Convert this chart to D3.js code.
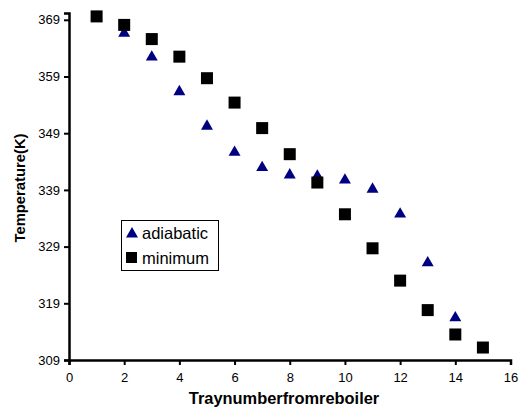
<!DOCTYPE html>
<html><head><meta charset="utf-8">
<script src="https://cdn.jsdelivr.net/npm/d3@7"></script>
<style>body{margin:0;background:#fff}text{font-family:"Liberation Sans",Arial,sans-serif}</style>
</head><body><svg id="c" width="521" height="411"></svg>
<script>
const adiabaticX = [1,2,3,4,5,6,7,8,9,10,11,12,13,14];
const adiabaticY = [369.6,366.8,362.6,356.5,350.4,345.8,343.1,341.8,341.6,340.9,339.3,334.9,326.3,316.6];
const minimumX = [1,2,3,4,5,6,7,8,9,10,11,12,13,14,15];
const minimumY = [369.6,368.1,365.6,362.5,358.7,354.4,349.9,345.3,340.3,334.7,328.7,323.0,317.8,313.5,311.2];
const xTicks = [0,2,4,6,8,10,12,14,16];
const yTicks = [309,319,329,339,349,359,369];
const legendLabels = ["adiabatic","minimum"];

const svg = d3.select("#c");
const x = d3.scaleLinear().domain([0,16]).range([69,510.5]);
const y = d3.scaleLinear().domain([309,370.2]).range([360,13]);

const xa = svg.append("g").attr("transform","translate(0,360)")
  .call(d3.axisBottom(x).tickValues(xTicks).tickSize(5).tickPadding(8));
const ya = svg.append("g").attr("transform","translate(69,0)")
  .call(d3.axisLeft(y).tickValues(yTicks).tickSize(5).tickPadding(4));
[xa,ya].forEach(a=>{
  a.select(".domain").attr("stroke","#000").attr("stroke-width",2.5);
  a.selectAll(".tick line").attr("stroke","#000").attr("stroke-width",2);
  a.selectAll(".tick text").attr("font-size",13).attr("fill","#000");
});

const tri = d3.symbol().type(d3.symbolTriangle).size(62);
svg.append("g").selectAll("path").data(adiabaticX).join("path")
  .attr("d",tri)
  .attr("transform",(d,i)=>`translate(${x(d)},${y(adiabaticY[i])+1})`)
  .attr("fill","#000080");
svg.append("g").selectAll("rect").data(minimumX).join("rect")
  .attr("x",d=>x(d)-6).attr("y",(d,i)=>y(minimumY[i])-6)
  .attr("width",12).attr("height",12).attr("fill","#000");

svg.append("text").attr("x",284).attr("y",404).attr("text-anchor","middle")
  .attr("font-size",16.4).attr("font-weight","bold").text("Traynumberfromreboiler");
svg.append("text").attr("transform","translate(25,188) rotate(-90)").attr("text-anchor","middle")
  .attr("font-size",14.8).attr("font-weight","bold").text("Temperature(K)");

const lg = svg.append("g");
lg.append("rect").attr("x",121.5).attr("y",220.5).attr("width",97).attr("height",50)
  .attr("fill","#fff").attr("stroke","#000").attr("stroke-width",1);
lg.append("path").attr("d",tri).attr("transform","translate(132,234)").attr("fill","#000080");
lg.append("rect").attr("x",126).attr("y",252).attr("width",11).attr("height",11).attr("fill","#000");
lg.append("text").attr("x",142).attr("y",239).attr("font-size",16.5).text(legendLabels[0]);
lg.append("text").attr("x",142).attr("y",264).attr("font-size",16.5).text(legendLabels[1]);
</script></body></html>
